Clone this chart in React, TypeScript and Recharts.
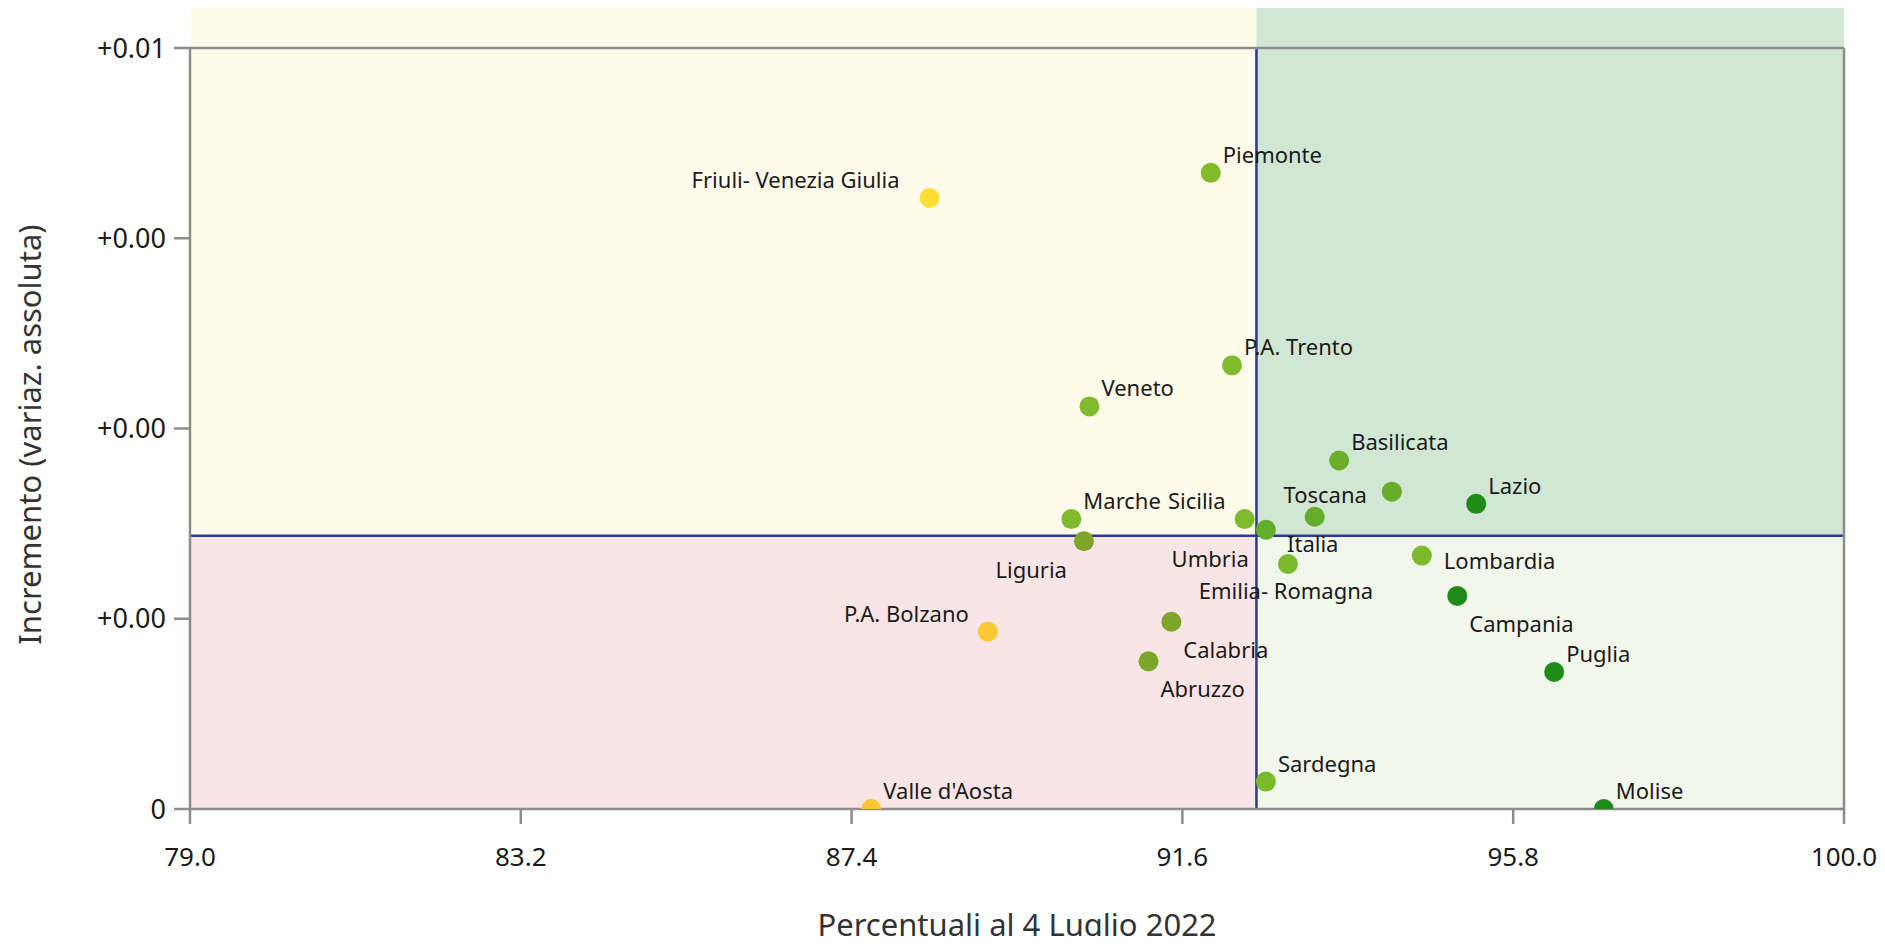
import React from 'react';
import { ScatterChart, Scatter, XAxis, YAxis, ReferenceArea, ReferenceLine } from 'recharts';

const regions = [
  'Friuli- Venezia Giulia', 'Piemonte', 'P.A. Trento', 'Veneto', 'Basilicata', 'Toscana', 'Lazio',
  'Italia', 'Sicilia', 'Marche', 'Umbria', 'Liguria', 'Lombardia', 'Emilia- Romagna', 'Campania',
  'Calabria', 'P.A. Bolzano', 'Abruzzo', 'Puglia', 'Sardegna', "Valle d'Aosta", 'Molise',
];
const percentuali = [
  88.39, 91.96, 92.23, 90.42, 93.59, 94.26, 95.33,
  93.28, 92.39, 90.19, 92.66, 90.35, 94.64, 92.94, 95.09,
  91.46, 89.13, 91.17, 96.32, 92.66, 87.65, 96.95,
];
const incrementi = [
  0.00803, 0.00836, 0.00583, 0.00529, 0.00458, 0.00417, 0.00401,
  0.00384, 0.00381, 0.00381, 0.00367, 0.00352, 0.00333, 0.00322, 0.0028,
  0.00246, 0.00233, 0.00194, 0.0018, 0.00036, 0, 0,
];
const pointColors = [
  '#FFDE33', '#84BB2D', '#80BA2D', '#80BA2D', '#6AAE2A', '#66AD2A', '#1E8A17',
  '#63AD2A', '#80BA2D', '#80BA2D', '#63AD2A', '#7CA52A', '#7BBA2D', '#7BBA2D', '#1E8A17',
  '#7CA52A', '#FBC833', '#7CA52A', '#1E8A17', '#7BBA2D', '#FBC833', '#1E8A17',
];
const labelSide = [
  'tlw', 'tr', 'tr', 'tr', 'tr', 'l', 'tr',
  'b', 'tl', 'tr', 'bl', 'bl', 'r', 'b', 'br',
  'br', 'tl', 'br', 'tr', 'tr', 'tr', 'tr',
];

const xTicks = [79.0, 83.2, 87.4, 91.6, 95.8, 100.0];
const yTicks = [0, 0.0025, 0.005, 0.0075, 0.01];
const yTickLabels = ['0', '+0.00', '+0.00', '+0.00', '+0.01'];
const xDomain = [79, 100];
const yDomain = [0, 0.01];
const thresholdX = 92.54;
const thresholdY = 0.003591;
const bandTop = 0.01055;

const xTitle = 'Percentuali al 4 Luglio 2022';
const yTitle = 'Incremento (variaz. assoluta)';

const data = regions.map((name, i) => ({
  name,
  x: percentuali[i],
  y: incrementi[i],
  color: pointColors[i],
  side: labelSide[i],
}));

const OFFSETS: Record<string, { dx: number; dy: number; anchor: 'start' | 'end' | 'middle' }> = {
  tr: { dx: 12, dy: -19, anchor: 'start' },
  tl: { dx: -19, dy: -19, anchor: 'end' },
  tlw: { dx: -30, dy: -19, anchor: 'end' },
  br: { dx: 12, dy: 27, anchor: 'start' },
  bl: { dx: -17, dy: 28, anchor: 'end' },
  b: { dx: -2, dy: 26, anchor: 'middle' },
  l: { dx: -25, dy: 2, anchor: 'end' },
  r: { dx: 22, dy: 4, anchor: 'start' },
};

const FONT = '"Noto Sans", sans-serif';
const AXIS_GRAY = '#8C8C8C';
const NAVY = '#2B3990';

const PointShape = (props: any) => {
  const { cx, cy, payload } = props;
  const o = OFFSETS[payload.side];
  return (
    <g>
      <circle cx={cx} cy={cy} r={10} fill={payload.color} />
      <text
        x={cx + o.dx}
        y={cy + o.dy}
        textAnchor={o.anchor}
        dominantBaseline="central"
        fontFamily={FONT}
        fontSize={22}
        fill="#1a1a1a"
      >
        {payload.name}
      </text>
    </g>
  );
};

export default function App() {
  return (
    <div style={{ width: 1869, height: 936, marginBottom: -8 }}>
      <ScatterChart
        width={1869}
        height={936}
        margin={{ top: 40, right: 33, bottom: 0, left: 0 }}
        style={{ fontFamily: FONT }}
      >
        <XAxis
          type="number"
          dataKey="x"
          domain={xDomain}
          ticks={xTicks}
          tickFormatter={(v: number) => v.toFixed(1)}
          height={135}
          tickSize={15}
          tickMargin={24}
          stroke={AXIS_GRAY}
          strokeWidth={2.5}
          tick={{ fill: '#1a1a1a', fontSize: 26, fontFamily: FONT }}
          label={{ value: xTitle, position: 'insideBottom', offset: 8, fill: '#333', fontSize: 31, fontFamily: FONT }}
          allowDataOverflow
        />
        <YAxis
          type="number"
          dataKey="y"
          domain={yDomain}
          ticks={yTicks}
          tickFormatter={(v: number) => yTickLabels[yTicks.indexOf(v)] ?? ''}
          width={182}
          tickSize={16}
          tickMargin={8}
          stroke={AXIS_GRAY}
          strokeWidth={2.5}
          tick={{ fill: '#1a1a1a', fontSize: 27, fontFamily: FONT }}
          label={{
            value: yTitle,
            angle: -90,
            position: 'insideLeft',
            offset: 22,
            dy: 6,
            fill: '#333',
            fontSize: 31,
            fontFamily: FONT,
            style: { textAnchor: 'middle' },
          }}
          allowDataOverflow
        />
        <ReferenceArea x1={79} x2={thresholdX} y1={thresholdY} y2={bandTop} fill="#FFFBEB" fillOpacity={1} stroke="none" ifOverflow="visible" />
        <ReferenceArea x1={thresholdX} x2={100} y1={thresholdY} y2={bandTop} fill="#D2E7D3" fillOpacity={1} stroke="none" ifOverflow="visible" />
        <ReferenceArea x1={79} x2={thresholdX} y1={0} y2={thresholdY} fill="#FAE5E6" fillOpacity={1} stroke="none" ifOverflow="visible" />
        <ReferenceArea x1={thresholdX} x2={100} y1={0} y2={thresholdY} fill="#F1F7EA" fillOpacity={1} stroke="none" ifOverflow="visible" />
        <Scatter data={data} shape={PointShape} isAnimationActive={false} />
        <ReferenceLine x={thresholdX} stroke={NAVY} strokeWidth={2.5} />
        <ReferenceLine y={thresholdY} stroke={NAVY} strokeWidth={2.5} />
        <ReferenceLine y={0.01} stroke={AXIS_GRAY} strokeWidth={2.5} />
        <ReferenceLine x={100} stroke={AXIS_GRAY} strokeWidth={2.5} />
      </ScatterChart>
    </div>
  );
}
